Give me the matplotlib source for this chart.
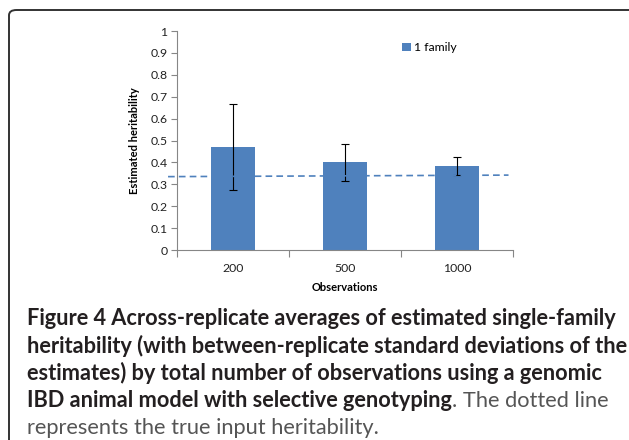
import numpy as np
import matplotlib.pyplot as plt
from matplotlib.patches import FancyBboxPatch

# data
observations = ["200", "500", "1000"]
mean_h2 = [0.470, 0.400, 0.384]
sd_h2 = [0.195, 0.083, 0.042]
true_h2 = [0.335, 0.342]  # dashed reference line, left and right end

caption_lines = [
    ("Figure 4", " Across-replicate averages of estimated single-family", True),
    ("heritability (with between-replicate standard deviations of the", "", True),
    ("estimates) by total number of observations using a genomic", "", True),
    ("IBD animal model with selective genotyping", ". The dotted line", False),
    ("", "represents the true input heritability.", False),
]

plt.rcParams["font.family"] = ["Lato", "DejaVu Sans"]

fig = plt.figure(figsize=(6.29, 4.40), dpi=100)

# rounded frame around the figure
frame = FancyBboxPatch((9 / 629, -0.05), 1.0, 1.05 - 10 / 440,
                       boxstyle="round,pad=0,rounding_size=0.012",
                       transform=fig.transFigure, fill=False,
                       edgecolor="#333333", linewidth=1.4, clip_on=False)
fig.patches.append(frame)

ax = fig.add_axes([177 / 629, 1 - 250 / 440, 336 / 629, 219 / 440])
x = np.arange(len(observations))
ax.bar(x, mean_h2, width=0.4, color="#4F81BD", label="1 family", zorder=2)
ax.errorbar(x, mean_h2, yerr=sd_h2, fmt="none", ecolor="black",
            elinewidth=0.8, capsize=3, capthick=0.8, zorder=3)

# true heritability line, runs a bit past the axes on the left
ax.plot([-0.58, 2.46], true_h2, color="#4F81BD", linestyle=(0, (4, 2.5)),
        linewidth=1.2, clip_on=False, zorder=4)

ax.set_xlim(-0.5, 2.5)
ax.set_ylim(0, 1)
ax.set_yticks(np.arange(0, 1.01, 0.1))
ax.set_yticklabels(["0", "0.1", "0.2", "0.3", "0.4", "0.5", "0.6", "0.7",
                    "0.8", "0.9", "1"])
ax.set_xticks(x)
ax.set_xticklabels(observations)
ax.set_xticks([-0.5, 0.5, 1.5, 2.5], minor=True)
ax.tick_params(axis="x", which="major", length=0, labelsize=8.8, pad=9,
               colors="#222222")
ax.tick_params(axis="x", which="minor", length=5, color="#868686", width=0.8)
ax.tick_params(axis="y", length=4, color="#868686", width=0.8, labelsize=8.8,
               labelcolor="#222222", pad=3)

for side in ["top", "right"]:
    ax.spines[side].set_visible(False)
ax.spines["left"].set_color("#868686")
ax.spines["bottom"].set_color("#868686")
ax.spines["left"].set_linewidth(0.8)
ax.spines["bottom"].set_linewidth(0.8)

ax.set_xlabel("Observations", fontsize=8, fontweight="bold", labelpad=6)
ax.set_ylabel("Estimated heritability", fontsize=8, fontweight="bold",
              labelpad=7)

ax.legend(loc="upper left", bbox_to_anchor=(0.655, 0.97), frameon=False,
          fontsize=8.8, handlelength=0.7, handleheight=0.7,
          handletextpad=0.3, borderaxespad=0)

# caption: size picked so the first line spans the same width as the reference
fig.canvas.draw()
renderer = fig.canvas.get_renderer()
probe = fig.text(0, 0, caption_lines[0][0] + caption_lines[0][1],
                 fontsize=15, fontweight="bold")
w = probe.get_window_extent(renderer).width
probe.remove()
cap_size = 15 * 590 / w

y0 = 1 - 318 / 440
dy = 27.5 / 440
for i, (bold_part, plain_part, plain_bold) in enumerate(caption_lines):
    y = y0 - i * dy
    xpos = 27 / 629
    if bold_part:
        t = fig.text(xpos, y, bold_part, fontsize=cap_size, fontweight="bold",
                     color="#231F20", va="center", ha="left")
        bb = t.get_window_extent(renderer)
        xpos = bb.x1 / fig.bbox.width
    if plain_part:
        fig.text(xpos, y, plain_part, fontsize=cap_size,
                 fontweight="bold" if plain_bold else "normal",
                 color="#231F20" if plain_bold else "#555555",
                 va="center", ha="left")

fig.savefig("out.png", dpi=100)
